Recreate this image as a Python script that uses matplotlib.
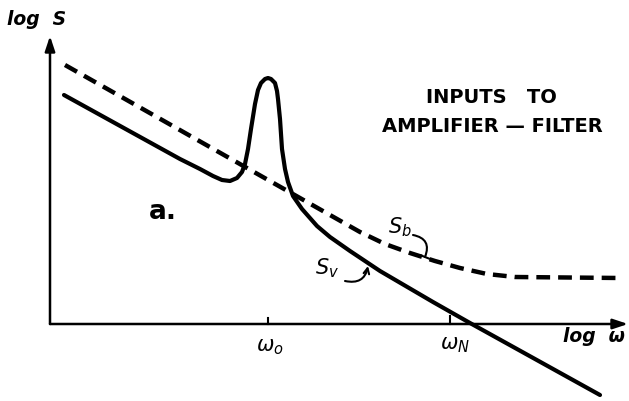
import matplotlib
matplotlib.use("Agg")
import matplotlib.pyplot as plt

# Schematic values (log omega, log S) in arbitrary units
sv_logw = [0.14, 1.30, 1.50, 1.63, 1.72, 1.80, 1.87, 1.92, 1.95, 1.98, 2.01, 2.05,
           2.08, 2.11, 2.15, 2.18, 2.21, 2.25, 2.27, 2.28, 2.30, 2.32, 2.35, 2.38,
           2.43, 2.52, 2.67, 2.80, 3.00, 3.30, 3.83, 4.20, 5.50]
sv_logs = [2.29, 1.65, 1.55, 1.48, 1.44, 1.43, 1.46, 1.52, 1.60, 1.75, 1.95, 2.20,
           2.34, 2.41, 2.45, 2.46, 2.45, 2.41, 2.33, 2.25, 2.05, 1.75, 1.55, 1.42,
           1.28, 1.15, 0.98, 0.87, 0.73, 0.53, 0.22, 0.01, -0.71]

sb_logw = [0.15, 3.10, 3.35, 3.60, 3.85, 4.10, 4.37, 4.65, 5.70]
sb_logs = [2.59, 0.92, 0.80, 0.71, 0.63, 0.56, 0.50, 0.47, 0.46]

w0 = 2.18
wN = 4.00

fig = plt.figure(figsize=(6.29, 4.02), dpi=100)
ax = fig.add_axes([0, 0, 1, 1])
ax.set_xlim(-0.5, 5.79)
ax.set_ylim(-0.77, 3.25)
ax.axis("off")

ink = "black"
# axes with arrows
ax.annotate("", xy=(0, 2.88), xytext=(0, 0),
            arrowprops=dict(arrowstyle="-|>,head_length=0.9,head_width=0.3",
                            lw=1.8, color=ink, shrinkA=0, shrinkB=0))
ax.annotate("", xy=(5.78, 0), xytext=(0, 0),
            arrowprops=dict(arrowstyle="-|>,head_length=0.9,head_width=0.3",
                            lw=1.8, color=ink, shrinkA=0, shrinkB=0))

# tick marks
ax.plot([w0, w0], [0, 0.06], color=ink, lw=1.5)
ax.plot([wN, wN], [0, 0.08], color=ink, lw=1.5)

# curves
ax.plot(sv_logw, sv_logs, color=ink, lw=3.0, solid_capstyle="round",
        solid_joinstyle="round")
ax.plot(sb_logw, sb_logs, color=ink, lw=3.2, dashes=(3.1, 1.8))

# labels
tfont = dict(family="DejaVu Sans", fontweight="bold", color=ink)
ax.text(-0.43, 3.05, "log  S", fontsize=13.5, style="italic", ha="left", va="center", **tfont)
ax.text(5.75, -0.12, "log  ω", fontsize=13.5, style="italic", ha="right", va="center", **tfont)
ax.text(w0 + 0.02, -0.22, r"$\omega_o$", fontsize=15, ha="center", va="center", color=ink)
ax.text(wN + 0.05, -0.20, r"$\omega_N$", fontsize=15, ha="center", va="center", color=ink)

ax.text(4.41, 2.27, "INPUTS   TO", fontsize=14, ha="center", va="center", **tfont)
ax.text(4.42, 1.98, "AMPLIFIER — FILTER", fontsize=14, ha="center", va="center", **tfont)

ax.text(1.13, 1.13, "a.", fontsize=19, ha="center", va="center", **tfont)

# S_b annotation
ax.text(3.50, 0.98, r"$S_b$", fontsize=15, ha="center", va="center", color=ink)
ax.annotate("", xy=(3.75, 0.67), xytext=(3.63, 0.89),
            arrowprops=dict(arrowstyle="-[,widthB=0.35,lengthB=0.0", lw=1.5, color=ink,
                            connectionstyle="arc3,rad=-0.6", shrinkA=0, shrinkB=0))
# S_v annotation
ax.text(2.77, 0.57, r"$S_v$", fontsize=15, ha="center", va="center", color=ink)
ax.annotate("", xy=(3.18, 0.58), xytext=(2.95, 0.43),
            arrowprops=dict(arrowstyle="->,head_length=0.4,head_width=0.2", lw=1.5,
                            color=ink, connectionstyle="arc3,rad=0.5",
                            shrinkA=0, shrinkB=0))

fig.savefig("out.png", dpi=100)
